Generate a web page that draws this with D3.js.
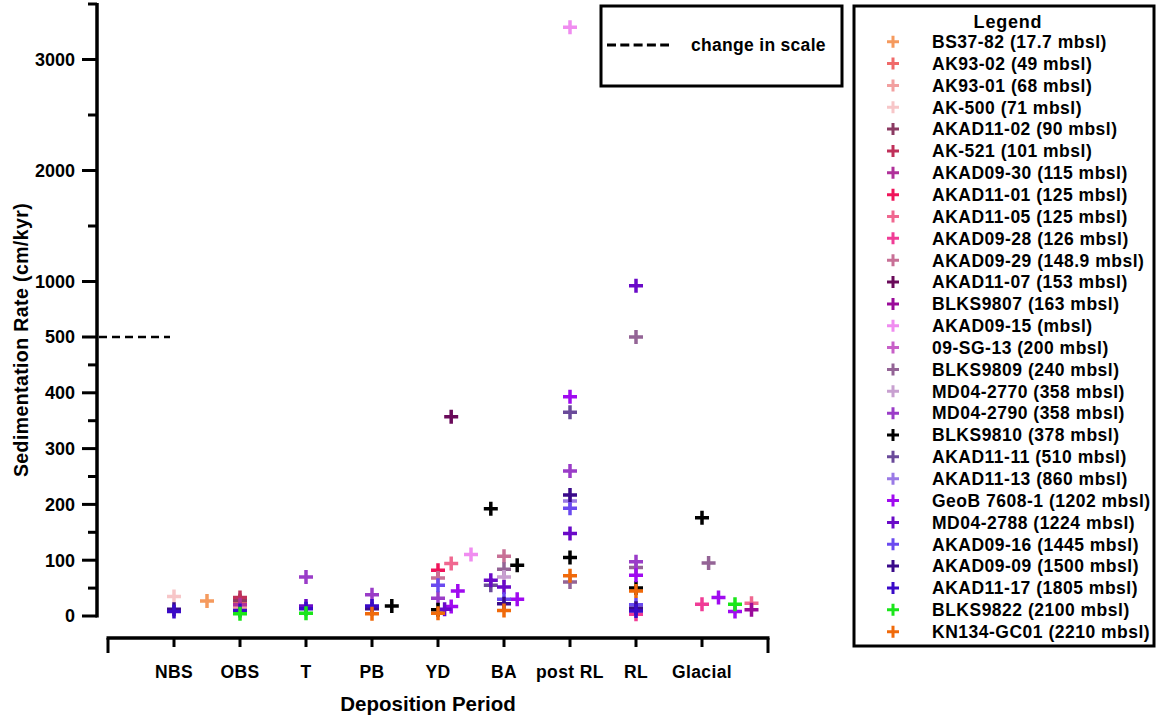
<!DOCTYPE html>
<html><head><meta charset="utf-8">
<script src="https://cdn.jsdelivr.net/npm/d3@7"></script>
<style>
body{margin:0;background:#fff;}
text{font-family:"Liberation Sans",Arial,sans-serif;font-weight:bold;fill:#000;}
</style></head>
<body><svg id="c" width="1158" height="721"></svg>
<script>
// ---- data ----
const categories = ["NBS","OBS","T","PB","YD","BA","post RL","RL","Glacial"];
const seriesNames = ["BS37-82 (17.7 mbsl)","AK93-02 (49 mbsl)","AK93-01 (68 mbsl)","AK-500 (71 mbsl)","AKAD11-02 (90 mbsl)","AK-521 (101 mbsl)","AKAD09-30 (115 mbsl)","AKAD11-01 (125 mbsl)","AKAD11-05 (125 mbsl)","AKAD09-28 (126 mbsl)","AKAD09-29 (148.9 mbsl)","AKAD11-07 (153 mbsl)","BLKS9807 (163 mbsl)","AKAD09-15 (mbsl)","09-SG-13 (200 mbsl)","BLKS9809 (240 mbsl)","MD04-2770 (358 mbsl)","MD04-2790 (358 mbsl)","BLKS9810 (378 mbsl)","AKAD11-11 (510 mbsl)","AKAD11-13 (860 mbsl)","GeoB 7608-1 (1202 mbsl)","MD04-2788 (1224 mbsl)","AKAD09-16 (1445 mbsl)","AKAD09-09 (1500 mbsl)","AKAD11-17 (1805 mbsl)","BLKS9822 (2100 mbsl)","KN134-GC01 (2210 mbsl)"];
const seriesColors = ["#f59a5e","#f06a6a","#f2a0a0","#f7c6c8","#8b3a62","#c0305a","#b0309a","#f0145a","#f06890","#f03c96","#c87096","#6a0a5a","#9a0a9a","#f08cf0","#c860c8","#946496","#c8a0d0","#9a3cc8","#000000","#6a4a9a","#9a7ae6","#a00af0","#6a0ac8","#6a4af0","#3a0a8a","#3a0ac8","#1ae61a","#f06a0a"];
// x = deposition period position (1 = NBS ... 9 = Glacial), y = sedimentation rate (cm/kyr)
const seriesValues = [
  [[1.5,27]],
  [[2,25]],
  [[2,15]],
  [[1,35]],
  [[2,28]],
  [[2,33]],
  [[2,20]],
  [[5,82]],
  [[5.2,94],[9.75,23]],
  [[8,3],[9,21]],
  [[5,68],[6,107]],
  [[5.2,357]],
  [[9.75,11]],
  [[5.5,110],[7,3290]],
  [],
  [[6,84],[7,61],[8,500],[8,87],[9.1,95]],
  [[6,70]],
  [[3,70],[4,38],[5,32],[7,260],[8,97]],
  [[4.3,18],[5,11],[5.8,192],[6.2,91],[7,105],[8,50],[9,176]],
  [[5.8,55],[7,365]],
  [[7,206]],
  [[5.3,45],[5.2,17],[6.2,30],[7,393],[8,73],[9.25,33],[9.5,8]],
  [[3,18],[5.1,12],[5.8,64],[6,52],[7,148],[8,962]],
  [[5,55],[6,30],[7,193],[8,20]],
  [[1,12],[4,13],[6,22],[7,217],[8,14]],
  [[1,8],[2,10],[3,13],[4,18],[8,9]],
  [[2,4],[3,5],[9.5,21]],
  [[4,4],[5,5],[6,10],[7,72],[8,45]]
];
const yMajorTicks = [0,100,200,300,400,500,1000,2000,3000];
const yMinorTicks = [50,150,250,350,450,1500,2500,3500];
const scaleBreak = 500;

// ---- drawing ----
const svg = d3.select("#c");
const x = d3.scaleLinear().domain([0,10]).range([108,768]);
const y = d3.scaleLinear().domain([0,scaleBreak,3500]).range([616,337,4]);
const axisX0 = 97, axisY = 638;

// y axis
const gy = svg.append("g").attr("transform",`translate(${axisX0},0)`);
gy.append("line").attr("x1",0).attr("x2",0).attr("y1",y(3500)-1).attr("y2",y(0)+1.5).attr("stroke","#000").attr("stroke-width",3.5);
gy.selectAll(".maj").data(yMajorTicks).join("line").attr("x1",-15).attr("x2",0).attr("y1",d=>y(d)).attr("y2",d=>y(d)).attr("stroke","#000").attr("stroke-width",3);
gy.selectAll(".min").data(yMinorTicks).join("line").attr("x1",-9).attr("x2",0).attr("y1",d=>y(d)).attr("y2",d=>y(d)).attr("stroke","#000").attr("stroke-width",3);
gy.selectAll(".lab").data(yMajorTicks).join("text").attr("x",-22).attr("y",d=>y(d)).attr("dy","0.36em").attr("text-anchor","end").style("font-size","18px").text(d=>d);

// dashed break line
svg.append("line").attr("x1",axisX0+2).attr("x2",170).attr("y1",y(scaleBreak)).attr("y2",y(scaleBreak)).attr("stroke","#000").attr("stroke-width",2.5).attr("stroke-dasharray","8,5");

// x axis
const gx = svg.append("g");
gx.append("line").attr("x1",x(0)-1.5).attr("x2",x(10)+1.5).attr("y1",axisY).attr("y2",axisY).attr("stroke","#000").attr("stroke-width",3.5);
gx.selectAll(".end").data([0,10]).join("line").attr("x1",d=>x(d)).attr("x2",d=>x(d)).attr("y1",axisY).attr("y2",axisY+15).attr("stroke","#000").attr("stroke-width",3);
gx.selectAll(".tk").data(categories).join("line").attr("x1",(d,i)=>x(i+1)).attr("x2",(d,i)=>x(i+1)).attr("y1",axisY).attr("y2",axisY+9).attr("stroke","#000").attr("stroke-width",3);
gx.selectAll(".tl").data(categories).join("text").attr("x",(d,i)=>x(i+1)).attr("y",678).attr("text-anchor","middle").style("font-size","17.5px").style("letter-spacing","0.4px").text(d=>d);
svg.append("text").attr("x",428).attr("y",711).attr("text-anchor","middle").style("font-size","20.5px").text("Deposition Period");
svg.append("text").attr("transform","translate(28,340) rotate(-90)").attr("text-anchor","middle").style("font-size","19.5px").style("letter-spacing","0.4px").text("Sedimentation Rate (cm/kyr)");

// markers
const plus = s => `M${-s},0H${s}M0,${-s}V${s}`;
seriesValues.forEach((vals,si)=>{
  svg.append("g").selectAll("path").data(vals).join("path")
    .attr("d",plus(7)).attr("transform",d=>`translate(${x(d[0])},${y(d[1])})`)
    .attr("fill","none").attr("stroke",seriesColors[si]).attr("stroke-width",3.5);
});

// change in scale box
svg.append("rect").attr("x",601).attr("y",6).attr("width",241).attr("height",80).attr("fill","none").attr("stroke","#000").attr("stroke-width",3);
svg.append("line").attr("x1",607).attr("x2",669).attr("y1",45).attr("y2",45).attr("stroke","#000").attr("stroke-width",3).attr("stroke-dasharray","9,4.3");
svg.append("text").attr("x",691).attr("y",51).style("font-size","17.5px").style("letter-spacing","0.3px").text("change in scale");

// legend
svg.append("rect").attr("x",854).attr("y",6).attr("width",300).attr("height",640).attr("fill","none").attr("stroke","#000").attr("stroke-width",3);
svg.append("text").attr("x",1008).attr("y",28).attr("text-anchor","middle").style("font-size","18px").style("letter-spacing","0.8px").text("Legend");
const lg = svg.append("g").selectAll("g").data(seriesNames).join("g").attr("transform",(d,i)=>`translate(0,${41.7+i*21.85})`);
lg.append("path").attr("d",plus(6)).attr("transform","translate(893,0)").attr("fill","none").attr("stroke",(d,i)=>seriesColors[i]).attr("stroke-width",3);
lg.append("text").attr("x",932).attr("y",0).attr("dy","0.36em").style("font-size","17.5px").style("letter-spacing","0.5px").text(d=>d);
</script></body></html>
